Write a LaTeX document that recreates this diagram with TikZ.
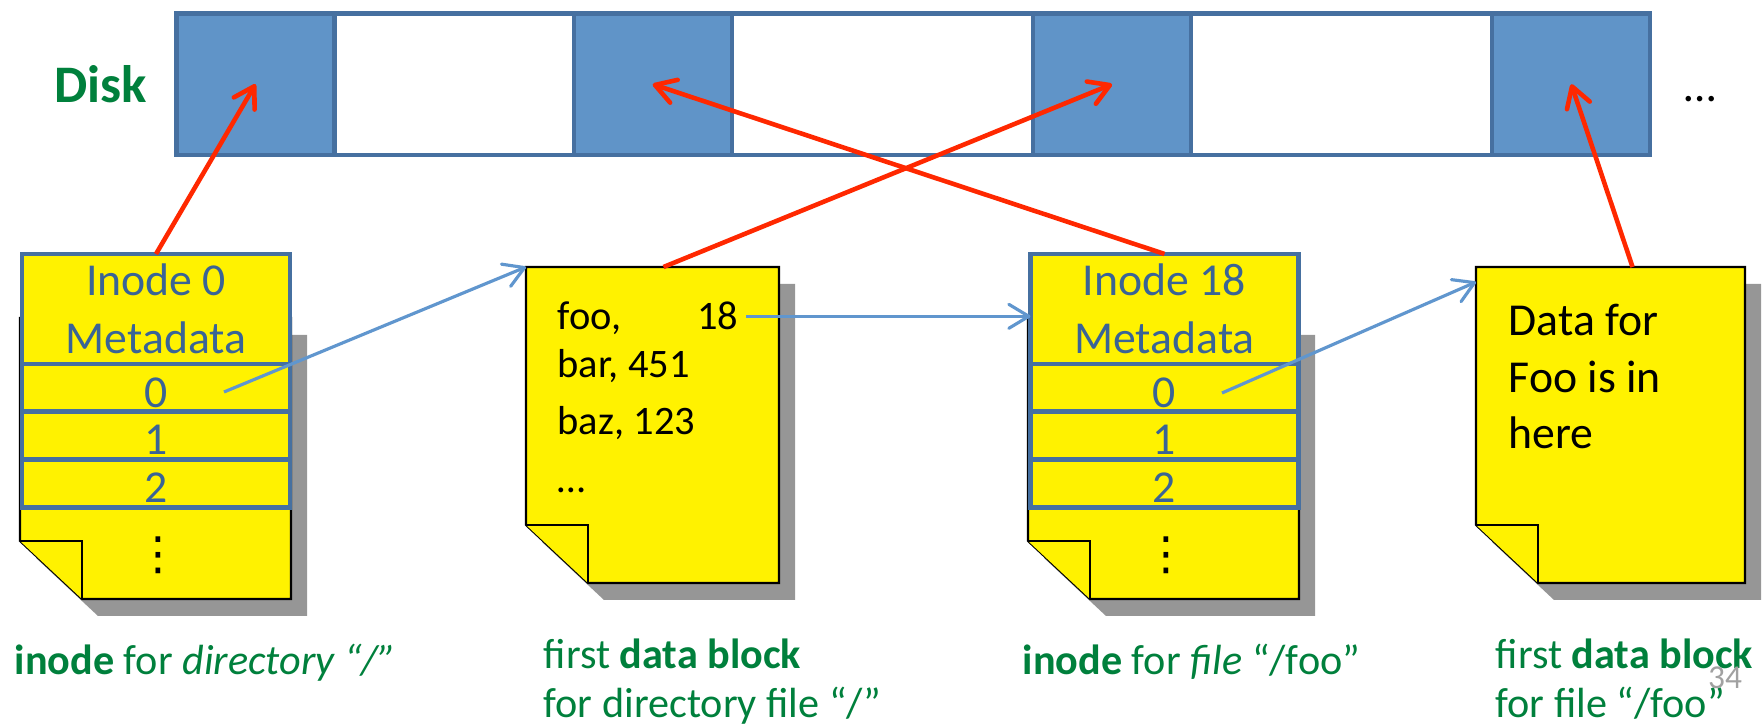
\documentclass[tikz,border=0pt]{standalone}
\usepackage{fontspec}
\setmainfont{Carlito}
\newfontfamily\symfont{DejaVu Sans}
\usepackage{tikz}
\usetikzlibrary{arrows.meta,positioning,fit}

\definecolor{diskblue}{RGB}{96,148,200}
\definecolor{diskedge}{RGB}{70,112,160}
\definecolor{inotext}{RGB}{58,100,150}
\definecolor{ptrblue}{RGB}{96,150,206}
\definecolor{ptrred}{RGB}{255,40,0}
\definecolor{lblgreen}{RGB}{0,128,60}
\definecolor{shadowgray}{RGB}{150,150,150}

\tikzstyle{diskblk} = [rectangle, draw=diskedge, line width=1.2pt,
    minimum height=1.415cm, inner sep=0pt, outer sep=0pt]
\tikzstyle{usedblk} = [diskblk, fill=diskblue, minimum width=1.58cm]
\tikzstyle{freeblk} = [diskblk, fill=white]
\tikzstyle{inohead} = [rectangle, draw=diskedge, line width=1.3pt, fill=yellow,
    text=inotext, minimum width=2.68cm, minimum height=1.1cm, inner sep=0pt,
    outer sep=0pt, align=center, font=\fontsize{13}{16.5}\selectfont]
\tikzstyle{inorow} = [inohead, minimum height=0.477cm, text height=11pt, text depth=0pt]
\tikzstyle{moredots} = [inner sep=0pt, font=\symfont\fontsize{13}{15}\selectfont]
\tikzstyle{pageface} = [draw=black, line width=0.6pt, fill=yellow]
\tikzstyle{datatext} = [anchor=base west, inner sep=0pt, font=\fontsize{11.5}{14}\selectfont]
\tikzstyle{bluelink} = [-{Straight Barb[length=2mm,width=2.4mm,round]}, draw=ptrblue, line width=0.9pt]
\tikzstyle{redlink} = [-{Straight Barb[length=2mm,width=2.4mm,round]}, draw=ptrred, line width=1.3pt]
\tikzstyle{bottomlbl} = [anchor=base west, inner sep=0pt, text=lblgreen, align=left,
    font=\fontsize{12}{13.9}\selectfont]

% yellow sheet with dog-ear and drop shadow: name, left, top, right, bottom
\newcommand{\docsheet}[5]{%
  \fill[shadowgray, shift={(16,17)}] (#2,#3) -- (#4,#3) -- (#4,#5) -- (#2+62,#5) -- (#2,#5-58) -- cycle;
  \draw[pageface] (#2,#3) -- (#4,#3) -- (#4,#5) -- (#2+62,#5) -- (#2,#5-58) -- cycle;
  \draw[pageface] (#2,#5-58) -- (#2+62,#5-58) -- (#2+62,#5);
  \node[inner sep=0pt, outer sep=0pt, fit={(#2,#3) (#4,#5)}] (#1) {};
}

\begin{document}
\begin{tikzpicture}[x=0.01cm, y=-0.01cm]
  \useasboundingbox (0,0) rectangle (1764,728);
  % Disk row
  \node[anchor=base, text=lblgreen, font=\fontsize{15}{18}\selectfont\bfseries] (disk) at (101,103) {Disk};
  \node[usedblk] (blk1) at (255.5,84.25) {};
  \node[freeblk, minimum width=2.39cm, right=0pt of blk1] (gap1) {};
  \node[usedblk, right=0pt of gap1] (blk2) {};
  \node[freeblk, minimum width=3.01cm, right=0pt of blk2] (gap2) {};
  \node[usedblk, right=0pt of gap2] (blk3) {};
  \node[freeblk, minimum width=3.01cm, right=0pt of blk3] (gap3) {};
  \node[usedblk, right=0pt of gap3] (blk4) {};
  \node[anchor=base, font=\fontsize{13}{16}\selectfont] (more) at (1700,102) {…};

  % Inode 0
  \docsheet{page0}{20}{318}{291}{599}
  \node[inohead] (ino0) at (156,309) {Inode 0\\Metadata};
  \node[inorow, below=0pt of ino0] (ino0a) {0};
  \node[inorow, below=0pt of ino0a] (ino0b) {1};
  \node[inorow, below=0pt of ino0b] (ino0c) {2};
  \node[moredots] (dots0) at (158,555) {⋮};

  % Inode 18
  \docsheet{page18}{1028}{318}{1299}{599}
  \node[inohead] (ino18) at (1164.5,309) {Inode 18\\Metadata};
  \node[inorow, below=0pt of ino18] (ino18a) {0};
  \node[inorow, below=0pt of ino18a] (ino18b) {1};
  \node[inorow, below=0pt of ino18b] (ino18c) {2};
  \node[moredots] (dots18) at (1166,555) {⋮};

  % Directory data block
  \docsheet{data0}{526}{267}{779}{583}
  \node[datatext] (foo) at (557,330) {foo,};
  \node[datatext, anchor=base east, inner sep=2pt] (num18) at (746,330) {18};
  \node[datatext] (bar) at (557,378) {bar, 451};
  \node[datatext] (baz) at (557,435) {baz, 123};
  \node[datatext] (etc) at (557,493) {…};

  % File data block
  \docsheet{data18}{1476}{267}{1745}{583}
  \node[datatext, font=\fontsize{13}{16.2}\selectfont, align=left] (foodata) at (1508,449)
    {Data for\\Foo is in\\here};

  % Captions
  \node[bottomlbl] (lbl0) at (14,674) {\textbf{inode} for \textit{directory “/”}};
  \node[bottomlbl] (lbl1) at (543,717) {first \textbf{data block}\\for directory file “/”};
  \node[bottomlbl] (lbl18) at (1022,674) {\textbf{inode} for \textit{file} “/foo”};
  \node[bottomlbl] (lbl2) at (1495,717) {first \textbf{data block}\\for file “/foo”};
  \node[anchor=base, text=black!37, font=\fontsize{9.5}{11}\selectfont] (slide) at (1725,688) {34};

  % Block pointers
  \draw[redlink] (ino0.north) -- (blk1.center);
  \draw[redlink] (ino18.north) -- (blk2.center);
  \draw[redlink] ([xshift=0.11cm]data0.north) -- (blk3.center);
  \draw[redlink] ([xshift=0.22cm]data18.north) -- (blk4.center);
  % Inode and directory links
  \coordinate (ptr0) at (224,392);
  \coordinate (ptr18) at (1222,393);
  \draw[bluelink] (ptr0) -- (data0.north west);
  \draw[bluelink] (num18.east) -- (num18.east -| ino18.west);
  \draw[bluelink] (ptr18) -- ([yshift=-0.15cm]data18.north west);
\end{tikzpicture}
\end{document}
